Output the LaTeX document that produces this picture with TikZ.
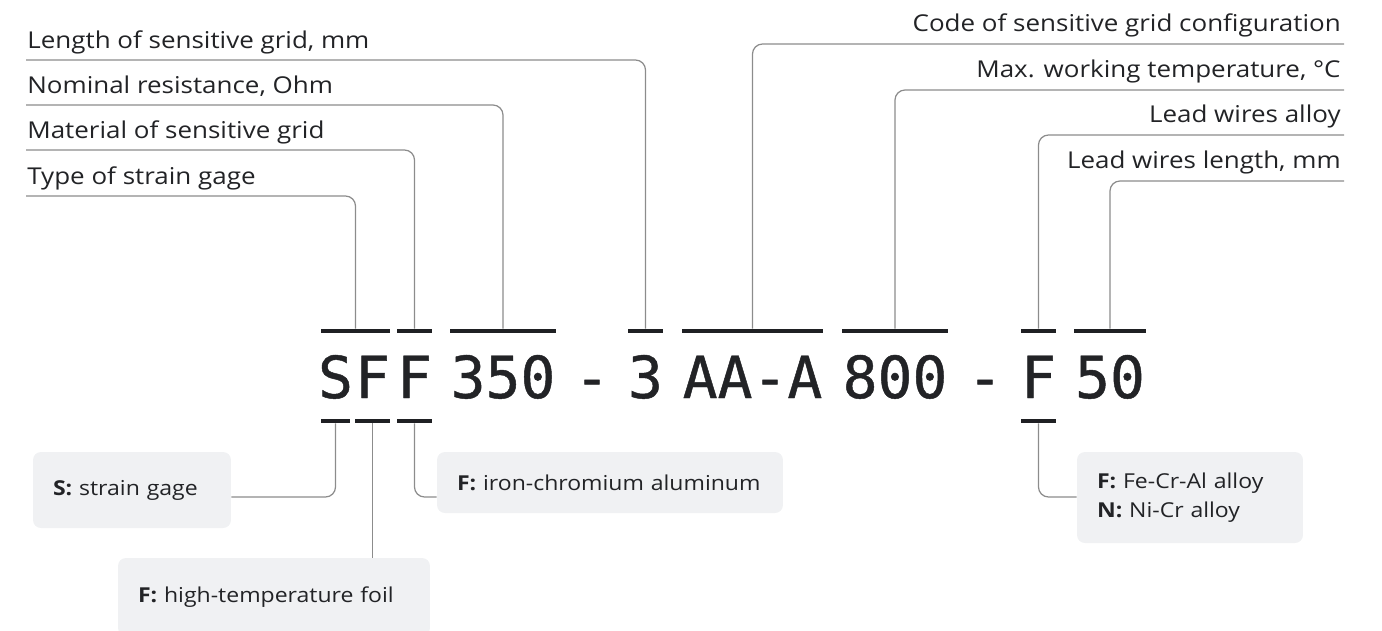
\documentclass[tikz,border=0pt]{standalone}
\usepackage{fontspec}
\setmainfont{Open Sans}[FakeStretch=1.12]
\newfontfamily\codefont{DejaVu Sans Mono}[FakeBold=0.8]
\usetikzlibrary{positioning}

\definecolor{ink}{HTML}{222326}
\definecolor{barink}{HTML}{1F2023}
\definecolor{leadgray}{HTML}{8C8C8C}
\definecolor{boxfill}{HTML}{F0F1F3}

\tikzset{
  code/.style={font=\codefont\fontsize{33}{33}\selectfont, text=ink, inner sep=0pt, anchor=base},
  lbl/.style={font=\fontsize{13.2}{15}\selectfont, text=ink, inner sep=0pt},
  barbox/.style={fill=barink, inner sep=0pt, minimum height=2.2pt},
  lead/.style={draw=leadgray, line width=0.7pt, rounded corners=2mm},
  infobox/.style={fill=boxfill, rounded corners=4.5pt, inner xsep=0.4cm, inner ysep=0pt,
    align=left, font=\fontsize{11.7}{16.5}\selectfont, text=ink}
}

\begin{document}
\begin{tikzpicture}[x=0.02cm, y=-0.02cm]
		%%%%% FRAME %%%%%
		\useasboundingbox (0,0) rectangle (1382,630);
		
		%%%%% CODE %%%%%
		\node[code] (cS) at (335.5,398) {S};
		\node[code] (cF1) at (372.5,398) {F};
		\node[code] (cF2) at (414.5,398) {F};
		\node[code] (cR) at (503,398) {350};
		\node[code] (cD1) at (592,398) {-};
		\node[code] (cL) at (645.5,398) {3};
		\node[code] (cG) at (752.5,398) {AA-A};
		\node[code] (cT) at (895,398) {800};
		\node[code] (cD2) at (985,398) {-};
		\node[code] (cW) at (1038.5,398) {F};
		\node[code] (cN) at (1110,398) {50};
		
		%%%%% BARS ABOVE %%%%%
		\node[barbox, minimum width=1.38cm] (tSF) at (355.5,331) {};
		\node[barbox, minimum width=0.7cm] (tF) at (414.5,331) {};
		\node[barbox, minimum width=2.12cm] (tR) at (503,331) {};
		\node[barbox, minimum width=0.7cm] (tL) at (645.5,331) {};
		\node[barbox, minimum width=2.82cm] (tG) at (752.5,331) {};
		\node[barbox, minimum width=2.12cm] (tT) at (895,331) {};
		\node[barbox, minimum width=0.7cm] (tW) at (1038.5,331) {};
		\node[barbox, minimum width=1.44cm] (tN) at (1110,331) {};
		
		%%%%% BARS BELOW %%%%%
		\node[barbox, minimum width=0.58cm] (uS) at (335.5,421) {};
		\node[barbox, minimum width=0.7cm] (uF1) at (372.5,421) {};
		\node[barbox, minimum width=0.7cm] (uF2) at (414.5,421) {};
		\node[barbox, minimum width=0.7cm] (uW) at (1038.5,421) {};
		
		%%%%% LABELS LEFT %%%%%
		\node[lbl, anchor=base west] (len) at (27,48) {Length of sensitive grid, mm};
		\node[lbl, anchor=base west] (res) at (27,93) {Nominal resistance, Ohm};
		\node[lbl, anchor=base west] (mat) at (27,138) {Material of sensitive grid};
		\node[lbl, anchor=base west] (typ) at (27,184) {Type of strain gage};
		
		\draw[lead] (len.base west) ++(-1,12) -| (tL.north);
		\draw[lead] (res.base west) ++(-1,12) -| (tR.north);
		\draw[lead] (mat.base west) ++(-1,12) -| (tF.north);
		\draw[lead] (typ.base west) ++(-1,12) -| (tSF.north);
		
		%%%%% LABELS RIGHT %%%%%
		\node[lbl, anchor=base east] (cfg) at (1341,31) {Code of sensitive grid configuration};
		\node[lbl, anchor=base east] (tmp) at (1341,77) {Max. working temperature, °C};
		\node[lbl, anchor=base east] (aly) at (1341,122) {Lead wires alloy};
		\node[lbl, anchor=base east] (wln) at (1341,168) {Lead wires length, mm};
		
		\draw[lead] (cfg.base east) ++(3,13) -| (tG.north);
		\draw[lead] (tmp.base east) ++(3,13) -| (tT.north);
		\draw[lead] (aly.base east) ++(3,13) -| (tW.north);
		\draw[lead] (wln.base east) ++(3,13) -| (tN.north);
		
		%%%%% BOXES %%%%%
		\node[infobox, text width=3.16cm, minimum height=1.52cm] (bS) at (132,490) {\textbf{S:} strain gage};
		\node[infobox, text width=5.44cm, minimum height=1.56cm] (bF1) at (274,597) {\textbf{F:} high-temperature foil};
		\node[infobox, text width=6.12cm, minimum height=1.22cm] (bF2) at (610,482.5) {\textbf{F:} iron-chromium aluminum};
		\node[infobox, text width=3.72cm, minimum height=1.82cm] (bW) at (1190,497.5) {\textbf{F:} Fe-Cr-Al alloy\\\textbf{N:} Ni-Cr alloy};
		
		\draw[lead] (uS.south) |- (bS.east |- 0,497);
		\draw[lead] (uF1.south) -- (uF1.south |- bF1.north);
		\draw[lead] (uF2.south) |- (bF2.west |- 0,497);
		\draw[lead] (uW.south) |- (bW.west |- 0,497);
		
		%%%%% END %%%%%
	\end{tikzpicture}
\end{document}
